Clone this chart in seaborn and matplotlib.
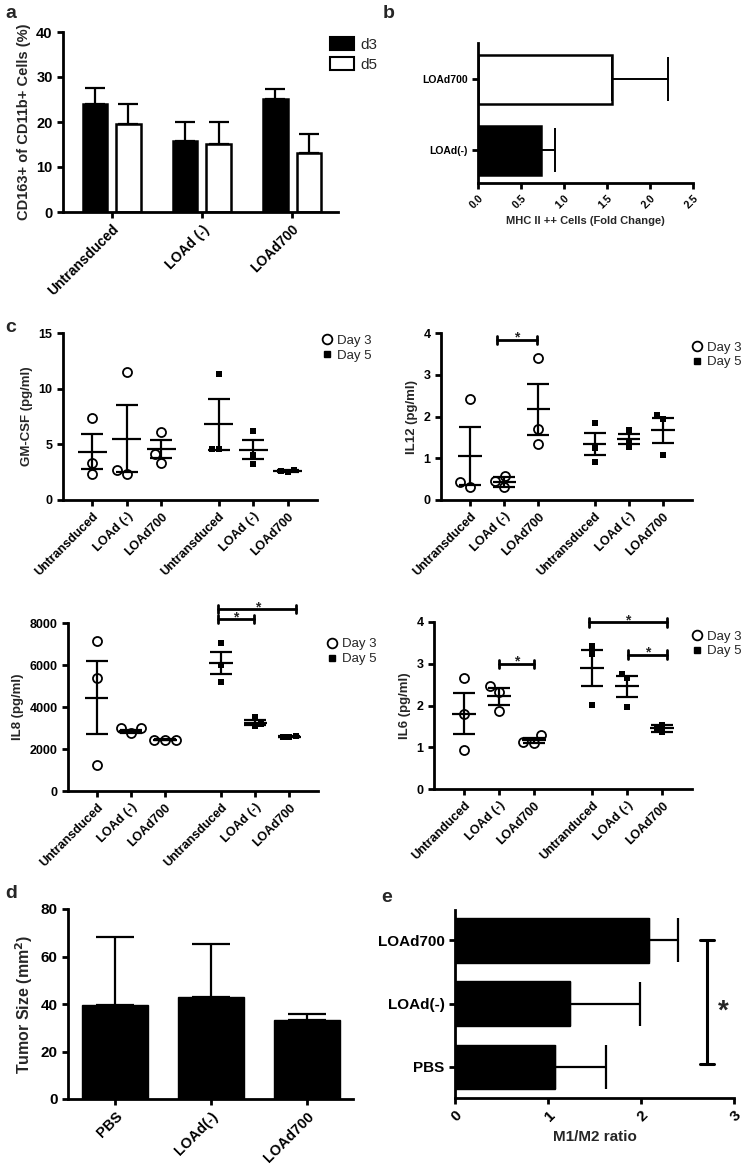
import numpy as np
import pandas as pd
import seaborn as sns
import matplotlib.pyplot as plt
from matplotlib.lines import Line2D
from matplotlib.patches import Patch

# ---- a: CD163+ of CD11b+ cells ----
a_groups = ["Untransduced", "LOAd (-)", "LOAd700"]
a_d3 = [24.1, 15.8, 25.2]
a_d3_err = [3.5, 4.1, 2.1]
a_d5 = [19.5, 15.1, 13.2]
a_d5_err = [4.4, 4.8, 4.1]

# ---- b: MHC II ++ cells ----
b_groups = ["LOAd700", "LOAd(-)"]
b_vals = [1.56, 0.73]
b_err = [0.65, 0.17]

# ---- c: cytokines (3 replicates per group) ----
c_groups = ["Untransduced", "LOAd (-)", "LOAd700"]
c_groups_il6 = ["Untranduced", "LOAd (-)", "LOAd700"]

gm_d3 = [[7.4, 2.3, 3.3], [11.5, 2.3, 2.7], [6.1, 3.3, 4.1]]
gm_d5 = [[11.3, 4.55, 4.6], [6.2, 3.2, 4.05], [2.7, 2.5, 2.6]]
gm_mean3, gm_sem3 = [4.35, 5.5, 4.55], [1.55, 3.0, 0.8]
gm_mean5, gm_sem5 = [6.8, 4.5, 2.6], [2.3, 0.85, 0.1]

il12_d3 = [[0.32, 2.41, 0.42], [0.3, 0.45, 0.58], [3.41, 1.70, 1.35]]
il12_d5 = [[1.85, 1.24, 0.92], [1.67, 1.26, 1.42], [2.03, 1.95, 1.08]]
il12_mean3, il12_sem3 = [1.05, 0.44, 2.17], [0.69, 0.12, 0.62]
il12_mean5, il12_sem5 = [1.34, 1.47, 1.67], [0.27, 0.12, 0.30]

il8_d3 = [[7155, 5370, 1230], [2980, 2740, 2980], [2450, 2430, 2450]]
il8_d5 = [[7044, 6008, 5211], [3506, 3092, 3200], [2600, 2560, 2580]]
il8_mean3, il8_sem3 = [4446, 2853, 2450], [1745, 75, 20]
il8_mean5, il8_sem5 = [6088, 3250, 2580], [540, 130, 20]

il6_d3 = [[2.66, 1.80, 0.94], [2.47, 2.32, 1.86], [1.29, 1.09, 1.12]]
il6_d5 = [[3.42, 3.24, 2.02], [2.76, 2.67, 1.96], [1.37, 1.45, 1.53]]
il6_mean3, il6_sem3 = [1.80, 2.22, 1.17], [0.49, 0.20, 0.06]
il6_mean5, il6_sem5 = [2.90, 2.46, 1.45], [0.44, 0.25, 0.08]

# significance brackets (x start, x end, y)
il12_sig = [(0.78, 1.95, 3.84)]
il8_sig = [(3.57, 4.62, 8190), (3.57, 5.86, 8670)]
il6_sig = [(1.0, 2.0, 3.0), (3.57, 5.79, 3.99), (4.68, 5.79, 3.22)]

# ---- d: tumor size ----
d_groups = ["PBS", "LOAd(-)", "LOAd700"]
d_vals = [39.4, 42.9, 33.3]
d_err = [28.7, 22.5, 2.5]

# ---- e: M1/M2 ratio ----
e_groups = ["LOAd700", "LOAd(-)", "PBS"]
e_vals = [2.09, 1.24, 1.07]
e_err = [0.31, 0.75, 0.55]

sns.set_style("ticks")
plt.rcParams["font.family"] = ["Liberation Sans", "DejaVu Sans"]
plt.rcParams["font.weight"] = "bold"
plt.rcParams["axes.labelweight"] = "bold"
plt.rcParams["axes.linewidth"] = 2
plt.rcParams["axes.edgecolor"] = "black"
plt.rcParams["xtick.major.width"] = 2
plt.rcParams["ytick.major.width"] = 2
plt.rcParams["xtick.major.size"] = 4
plt.rcParams["ytick.major.size"] = 4
plt.rcParams["xtick.color"] = "black"
plt.rcParams["ytick.color"] = "black"

W, H = 745, 1167
fig = plt.figure(figsize=(W / 100, H / 100), dpi=100)


def add_ax(left, right, top, bottom):
    return fig.add_axes([left / W, 1 - bottom / H, (right - left) / W, (bottom - top) / H])


def rot_labels(ax, labels, size):
    ax.set_xticklabels(labels, rotation=45, ha="right", rotation_mode="anchor", fontsize=size)


# ================= a =================
ax = add_ax(63, 338, 32, 212)
df_a = pd.DataFrame({"group": a_groups * 2, "day": ["d3"] * 3 + ["d5"] * 3, "value": a_d3 + a_d5})
sns.barplot(data=df_a, x="group", y="value", hue="day", palette={"d3": "black", "d5": "white"},
            edgecolor="black", linewidth=1.8, width=0.74, gap=0.27, errorbar=None,
            saturation=1, legend=False, ax=ax)
for cont, err in zip(ax.containers, [a_d3_err, a_d5_err]):
    xs = [b.get_x() + b.get_width() / 2 for b in cont]
    ys = [b.get_height() for b in cont]
    ax.errorbar(xs, ys, yerr=[np.zeros(len(err)), err], fmt="none", ecolor="black",
                elinewidth=1.6, capsize=7, capthick=1.6)
ax.set_ylim(0, 40)
ax.set_xlim(-0.54, 2.51)
ax.set_yticks([0, 10, 20, 30, 40])
ax.tick_params(axis="y", labelsize=10.5)
rot_labels(ax, a_groups, 10)
ax.set_xlabel("")
ax.set_ylabel("CD163+ of CD11b+ Cells (%)", fontsize=10.5)
sns.despine(ax=ax)
ax.legend(handles=[Patch(facecolor="black", edgecolor="black", lw=1.5, label="d3"),
                   Patch(facecolor="white", edgecolor="black", lw=1.5, label="d5")],
          loc="upper left", bbox_to_anchor=(0.97, 0.97), frameon=False, borderpad=0,
          borderaxespad=0, handlelength=1.6, handleheight=0.9, handletextpad=0.4,
          labelspacing=0.35, prop={"size": 11, "weight": "normal"})

# ================= b =================
ax = add_ax(478, 693, 43, 183)
df_b = pd.DataFrame({"group": b_groups, "value": b_vals})
sns.barplot(data=df_b, x="value", y="group", hue="group", orient="h",
            palette={"LOAd700": "white", "LOAd(-)": "black"}, edgecolor="black",
            linewidth=1.8, width=0.69, errorbar=None, saturation=1, legend=False, ax=ax)
bars = sorted(ax.patches, key=lambda p: p.get_y())
ys = [p.get_y() + p.get_height() / 2 for p in bars]
xs = [p.get_width() for p in bars]
ax.errorbar(xs, ys, xerr=[np.zeros(len(b_err)), b_err], fmt="none", ecolor="black",
            elinewidth=1.4, capsize=16, capthick=1.4)
ax.set_xlim(0, 2.5)
ax.set_ylim(1.46, -0.51)
ax.set_xticks([0, 0.5, 1.0, 1.5, 2.0, 2.5])
rot_labels(ax, ["0.0", "0.5", "1.0", "1.5", "2.0", "2.5"], 7.5)
ax.tick_params(axis="y", labelsize=7.5)
ax.set_ylabel("")
ax.set_xlabel("MHC II ++ Cells (Fold Change)", fontsize=8)
sns.despine(ax=ax)


# ================= c =================
pos3 = np.array([0, 1, 2])
pos5 = np.array([3.65, 4.65, 5.65])


def cyto_panel(ax, d3, d5, m3, s3, m5, s5, ylabel, ylim, yticks, xlabels, sig, leg_xy, hw):
    df3 = pd.DataFrame({"x": np.repeat(pos3, [len(v) for v in d3]), "y": np.concatenate(d3)})
    df5 = pd.DataFrame({"x": np.repeat(pos5, [len(v) for v in d5]), "y": np.concatenate(d5)})
    sns.swarmplot(data=df3, x="x", y="y", native_scale=True, orient="x", marker="o",
                  color="white", edgecolor="black", linewidth=1.3, size=6.5, ax=ax, zorder=3)
    sns.swarmplot(data=df5, x="x", y="y", native_scale=True, orient="x", marker="s",
                  color="black", size=4.5, ax=ax, zorder=3)
    for pos, m, s in [(pos3, m3, s3), (pos5, m5, s5)]:
        ax.hlines(m, pos - hw, pos + hw, colors="black", lw=1.6, zorder=4)
        ax.errorbar(pos, m, yerr=s, fmt="none", ecolor="black", elinewidth=1.6,
                    capsize=8, capthick=1.6, zorder=4)
    ax.set_ylim(*ylim)
    ax.set_xlim(-0.85, 6.5)
    ax.set_yticks(yticks)
    ax.tick_params(axis="y", labelsize=9)
    ax.set_xticks(np.concatenate([pos3, pos5]))
    rot_labels(ax, xlabels * 2, 9)
    ax.set_xlabel("")
    ax.set_ylabel(ylabel, fontsize=9.5)
    h = 0.025 * (ylim[1] - ylim[0])
    for x1, x2, y in sig:
        ax.plot([x1, x2], [y, y], color="black", lw=2, clip_on=False)
        ax.plot([x1, x1], [y - h, y + h], color="black", lw=2, clip_on=False)
        ax.plot([x2, x2], [y - h, y + h], color="black", lw=2, clip_on=False)
        ax.annotate("*", ((x1 + x2) / 2, y), xytext=(0, -1.5), textcoords="offset points",
                    ha="center", va="baseline", fontsize=10, fontweight="bold",
                    annotation_clip=False)
    sns.despine(ax=ax)
    handles = [Line2D([], [], marker="o", ls="", mfc="white", mec="black", mew=1.3, ms=7, label="Day 3"),
               Line2D([], [], marker="s", ls="", mfc="black", mec="black", ms=5, label="Day 5")]
    ax.legend(handles=handles, loc="upper left", bbox_to_anchor=leg_xy, frameon=False,
              borderpad=0, borderaxespad=0, handlelength=0.8, handletextpad=0.35,
              labelspacing=0.2, prop={"size": 9.5, "weight": "normal"})


ax = add_ax(63, 317, 333, 500)
cyto_panel(ax, gm_d3, gm_d5, gm_mean3, gm_sem3, gm_mean5, gm_sem5, "GM-CSF (pg/ml)",
           (0, 15), [0, 5, 10, 15], c_groups, [], (1.02, 0.99), 0.42)

ax = add_ax(441, 692, 333, 500)
cyto_panel(ax, il12_d3, il12_d5, il12_mean3, il12_sem3, il12_mean5, il12_sem5, "IL12 (pg/ml)",
           (0, 4), [0, 1, 2, 3, 4], c_groups, il12_sig, (1.0, 0.95), 0.34)

ax = add_ax(68, 318, 623, 791)
cyto_panel(ax, il8_d3, il8_d5, il8_mean3, il8_sem3, il8_mean5, il8_sem5, "IL8 (pg/ml)",
           (0, 8000), [0, 2000, 4000, 6000, 8000], c_groups, il8_sig, (1.036, 0.91), 0.34)

ax = add_ax(434, 692, 622, 789)
cyto_panel(ax, il6_d3, il6_d5, il6_mean3, il6_sem3, il6_mean5, il6_sem5, "IL6 (pg/ml)",
           (0, 4), [0, 1, 2, 3, 4], c_groups_il6, il6_sig, (1.0, 0.95), 0.34)

# ================= d =================
ax = add_ax(68, 353, 909, 1099)
sns.barplot(x=d_groups, y=d_vals, color="black", edgecolor="black", width=0.68,
            saturation=1, errorbar=None, ax=ax)
xs = [p.get_x() + p.get_width() / 2 for p in ax.patches]
ys = [p.get_height() for p in ax.patches]
ax.errorbar(xs, ys, yerr=[np.zeros(len(d_err)), d_err], fmt="none", ecolor="black",
            elinewidth=1.6, capsize=14, capthick=1.6)
ax.set_ylim(0, 80)
ax.set_xlim(-0.49, 2.48)
ax.set_yticks([0, 20, 40, 60, 80])
ax.tick_params(axis="y", labelsize=11)
rot_labels(ax, d_groups, 10.5)
ax.set_ylabel("Tumor Size (mm$^\\mathbf{2}$)", fontsize=11.5)
sns.despine(ax=ax)

# ================= e =================
ax = add_ax(455, 734, 910, 1098)
sns.barplot(x=e_vals, y=e_groups, orient="h", color="black", edgecolor="black", width=0.71,
            saturation=1, errorbar=None, ax=ax)
bars = sorted(ax.patches, key=lambda p: p.get_y())
ys = [p.get_y() + p.get_height() / 2 for p in bars]
xs = [p.get_width() for p in bars]
ax.errorbar(xs, ys, xerr=[np.zeros(len(e_err)), e_err], fmt="none", ecolor="black",
            elinewidth=1.6, capsize=16, capthick=1.6)
ax.set_xlim(0, 3)
ax.set_ylim(2.49, -0.48)
ax.set_xticks([0, 1, 2, 3])
rot_labels(ax, ["0", "1", "2", "3"], 11)
ax.tick_params(axis="y", labelsize=11)
ax.set_xlabel("M1/M2 ratio", fontsize=11)
# bracket LOAd700 vs PBS
ax.plot([2.71, 2.71], [0, 1.95], color="black", lw=2.2, clip_on=False)
ax.plot([2.63, 2.79], [0, 0], color="black", lw=2.2, clip_on=False)
ax.plot([2.63, 2.79], [1.95, 1.95], color="black", lw=2.2, clip_on=False)
ax.text(2.89, 1.12, "*", ha="center", va="center", fontsize=20, fontweight="bold")
sns.despine(ax=ax)

# panel letters
for letter, x, y in [("a", 5, 14), ("b", 383, 14), ("c", 5, 327), ("d", 5, 893), ("e", 381, 898)]:
    fig.text(x / W, 1 - y / H, letter, fontsize=14, fontweight="bold", va="center", ha="left")

fig.savefig("out.png", dpi=100)
